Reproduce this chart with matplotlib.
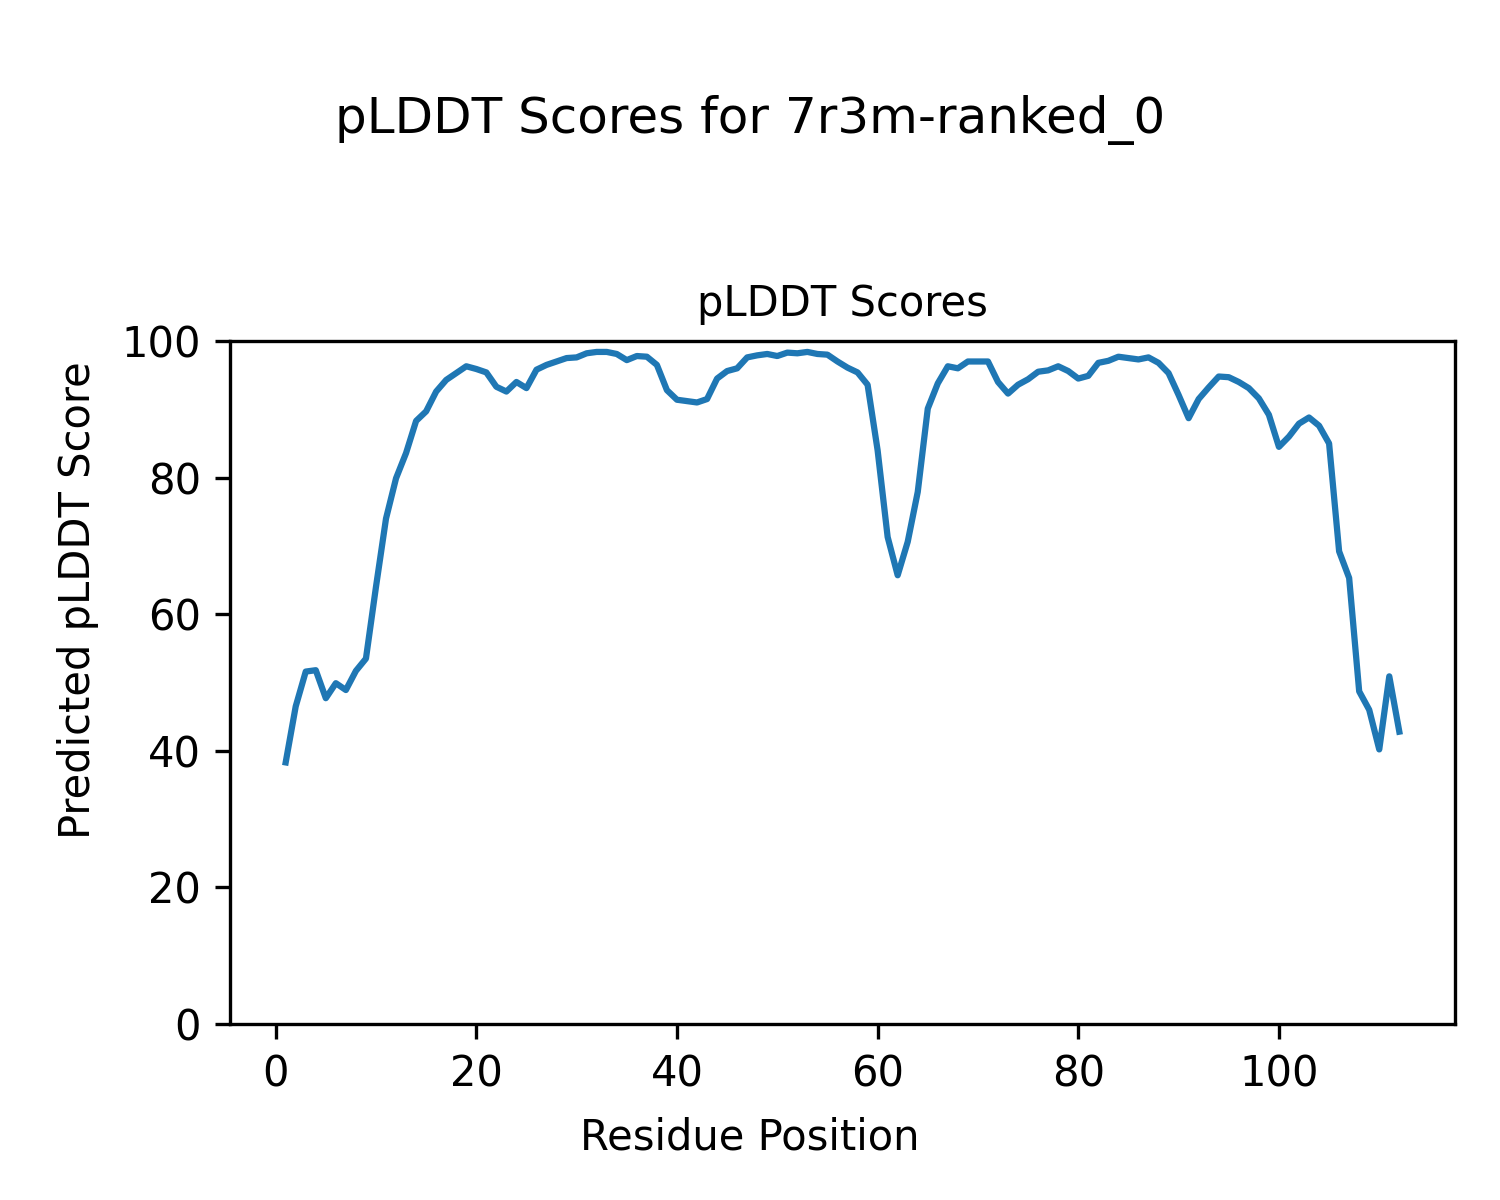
import matplotlib
matplotlib.use("Agg")
import matplotlib.pyplot as plt

residues = list(range(1, 113))
plddt = [
    38.3, 46.5, 51.6, 51.8, 47.7, 49.9, 48.9, 51.7, 53.5, 64.0,
    74.0, 79.9, 83.6, 88.3, 89.7, 92.6, 94.3, 95.3, 96.3, 95.9,
    95.4, 93.3, 92.6, 94.0, 93.1, 95.8, 96.5, 97.0, 97.5, 97.6,
    98.2, 98.4, 98.4, 98.1, 97.2, 97.8, 97.7, 96.5, 92.8, 91.4,
    91.2, 91.0, 91.5, 94.5, 95.6, 96.0, 97.6, 97.9, 98.1, 97.8,
    98.3, 98.2, 98.4, 98.1, 98.0, 97.0, 96.1, 95.4, 93.6, 84.0,
    71.3, 65.7, 70.6, 77.9, 90.1, 93.8, 96.3, 96.0, 97.0, 97.0,
    97.0, 94.0, 92.3, 93.6, 94.4, 95.5, 95.7, 96.3, 95.6, 94.5,
    94.9, 96.8, 97.1, 97.7, 97.5, 97.3, 97.6, 96.8, 95.3, 92.1,
    88.7, 91.5, 93.2, 94.8, 94.7, 94.0, 93.1, 91.6, 89.2, 84.5,
    86.0, 87.9, 88.8, 87.6, 85.0, 69.2, 65.3, 48.7, 46.0, 40.2,
    50.9, 42.8,
]

fig = plt.figure(figsize=(5, 4), dpi=300)
ax = fig.add_axes([230 / 1500, 1 - 1024 / 1200, (1455 - 230) / 1500, (1024 - 341) / 1200])
ax.plot(residues, plddt, color="#1f77b4", linewidth=1.5)
ax.set_ylim(0, 100)
ax.set_title("pLDDT Scores", fontsize=10)
fig.supxlabel("Residue Position", x=0.5, y=1 - 1138 / 1200, va="center", fontsize=10)
fig.supylabel("Predicted pLDDT Score", x=78 / 1500, y=0.5, ha="center", va="center", fontsize=10)
fig.suptitle("pLDDT Scores for 7r3m-ranked_0", y=1 - 120 / 1200, va="center", fontsize=12)
fig.savefig("out.png", dpi=300)
